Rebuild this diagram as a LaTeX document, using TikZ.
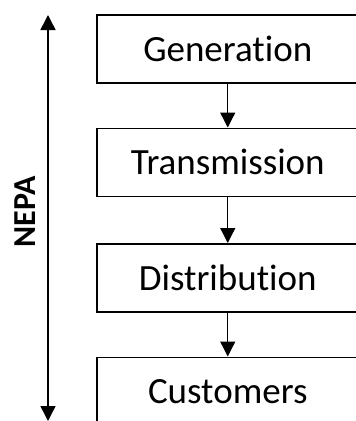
\documentclass[tikz,border=0pt]{standalone}
\usepackage{fontspec}
\setmainfont[Ligatures=NoCommon]{Carlito}
\usetikzlibrary{positioning,arrows.meta}
\tikzset{
  stagebox/.style={draw, line width=1.5pt, minimum width=262pt, minimum height=68pt,
    inner sep=0pt, font=\fontsize{37}{40}\selectfont},
  flowarrow/.style={line width=1.3pt, -{Triangle[width=15pt,length=15pt]}},
}
\begin{document}
\begin{tikzpicture}[x=1pt,y=-1pt]
        \clip (0,0) rectangle (356,421);
        \fill[white] (0,0) rectangle (356,421);

        \node[stagebox, anchor=north west] (gen) at (96,14) {Generation};
        \node[stagebox, below=44pt of gen] (trans) {Transmission};
        \node[stagebox, below=46pt of trans] (dist) {Distribution};
        \node[stagebox, below=44pt of dist] (cust) {Customers};

        \draw[flowarrow] (gen) -- (trans);
        \draw[flowarrow] (trans) -- (dist);
        \draw[flowarrow] (dist) -- (cust);

        \coordinate (top) at (48,15);
        \coordinate (bottom) at (48,421);
        \draw[line width=1.5pt, {Triangle[width=15pt,length=15pt]}-{Triangle[width=15pt,length=15pt]}] (top) -- (bottom);
        \node[rotate=90, font=\fontsize{32}{36}\selectfont\bfseries] (nepa) at (25,212) {NEPA};
\end{tikzpicture}
\end{document}
